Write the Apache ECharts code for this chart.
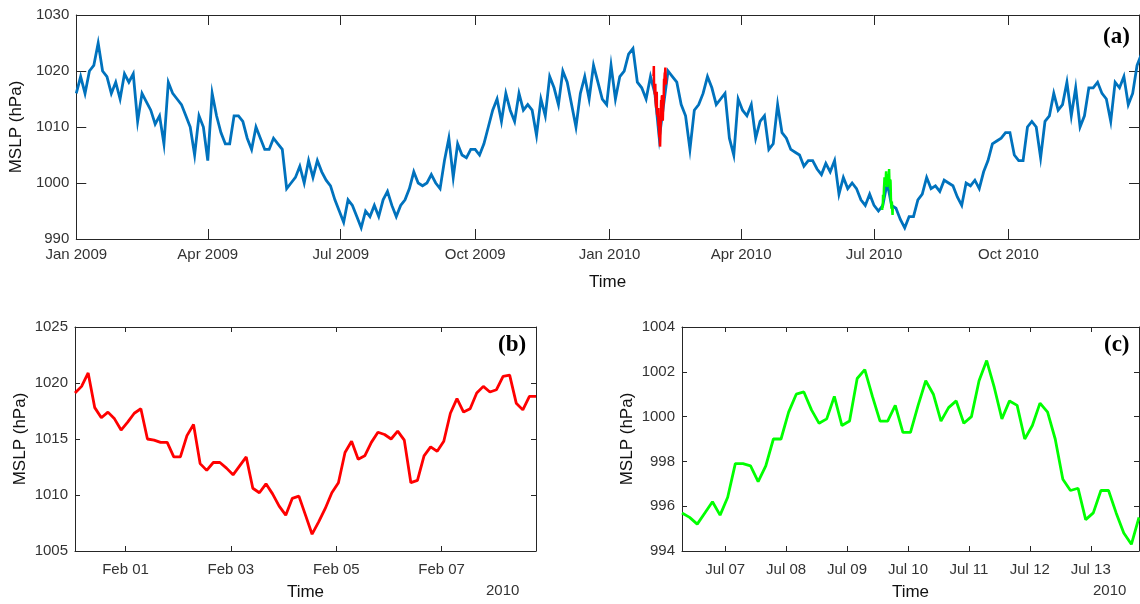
<!DOCTYPE html>
<html>
<head>
<meta charset="utf-8">
<script src="https://cdn.jsdelivr.net/npm/echarts@6/dist/echarts.min.js"></script>
<style>
html, body { margin: 0; padding: 0; background: #fff; }
#chart { width: 1140px; height: 604px; }
</style>
</head>
<body>
<div id="chart"></div>
<script>
const DAY = 86400000;
const HOUR = 3600000;

// (a) MSLP, one value every 3 days from 1 Jan 2009
const startA = Date.UTC(2009, 0, 1);
const mslpA = [
  1016, 1019, 1016, 1020, 1021, 1025, 1020, 1019, 1016, 1018,
  1015, 1019.5, 1018, 1019.5, 1011, 1016, 1014.5, 1013, 1010.5, 1012,
  1007, 1018, 1016, 1015, 1014, 1012, 1010, 1005, 1012, 1010,
  1004, 1016, 1012, 1009, 1007, 1007, 1012, 1012, 1011, 1008,
  1006, 1010, 1008, 1006, 1006, 1008, 1007, 1006, 999, 1000,
  1001, 1003, 1000, 1004, 1001, 1004, 1002, 1000.5, 999.5, 997,
  995, 993, 997, 996, 994, 992, 995, 994, 996, 994,
  997, 998.5, 996, 994, 996, 997, 999, 1002, 1000, 999.5,
  1000, 1001.5, 1000, 999, 1004, 1008, 1001, 1007, 1005, 1004.5,
  1006, 1006, 1005, 1007, 1010, 1013, 1015, 1011, 1016, 1013,
  1011, 1016, 1013, 1014, 1013, 1008.5, 1015, 1012, 1019, 1017,
  1014, 1020, 1018, 1014, 1010, 1016, 1019, 1015, 1021, 1018,
  1015, 1014, 1021, 1015, 1019, 1020, 1023, 1024, 1018, 1017,
  1015, 1019, 1016, 1008, 1014, 1020, 1019, 1018, 1014, 1012,
  1006, 1013, 1014, 1016, 1019, 1017, 1014, 1015, 1016, 1008,
  1005, 1015, 1013, 1012, 1014, 1008, 1011, 1012, 1006, 1007,
  1014, 1009, 1008, 1006, 1005.5, 1005, 1003, 1004, 1004, 1002.5,
  1001.5, 1003.5, 1002, 1004, 998, 1001, 999, 1000, 999, 997,
  996, 998, 996, 995, 996, 1000, 996, 995.5, 993.5, 992,
  994, 994, 997, 998, 1001, 999, 999.5, 998.5, 1000.5, 1000,
  999.5, 997.5, 996, 1000, 999.5, 1000.5, 999, 1002, 1004, 1007,
  1007.5, 1008, 1009, 1009, 1005, 1004, 1004, 1010, 1011, 1010,
  1004.5, 1011, 1012, 1016, 1013, 1014, 1018, 1012, 1017, 1010,
  1012, 1017, 1017, 1018, 1016, 1015, 1011, 1018, 1017, 1019,
  1014, 1016, 1021, 1023
];

// (b) MSLP every 3 h from 31 Jan 2010 01:00
const startB = Date.UTC(2010, 0, 31, 1);
const mslpB = [
  1019.1, 1019.7, 1020.9, 1017.8, 1016.9, 1017.4, 1016.8, 1015.8, 1016.5, 1017.3,
  1017.7, 1015.0, 1014.9, 1014.7, 1014.7, 1013.4, 1013.4, 1015.3, 1016.3, 1012.8,
  1012.2, 1012.9, 1012.9, 1012.4, 1011.8, 1012.6, 1013.4, 1010.6, 1010.2, 1011.0,
  1010.1, 1009.0, 1008.2, 1009.7, 1009.9, 1008.2, 1006.5, 1007.6, 1008.8, 1010.2,
  1011.1, 1013.8, 1014.8, 1013.2, 1013.5, 1014.7, 1015.6, 1015.4, 1015.0, 1015.7,
  1014.9, 1011.1, 1011.3, 1013.5, 1014.3, 1013.9, 1014.8, 1017.3, 1018.6, 1017.4,
  1017.7, 1019.1, 1019.7, 1019.2, 1019.4, 1020.6, 1020.7, 1018.2, 1017.6, 1018.8,
  1018.8
];

// (c) MSLP every 3 h from 6 Jul 2010 07:00
const startC = Date.UTC(2010, 6, 6, 7);
const mslpC = [
  995.7, 995.5, 995.2, 995.7, 996.2, 995.6, 996.4, 997.9, 997.9, 997.8,
  997.1, 997.8, 999.0, 999.0, 1000.2, 1001.0, 1001.1, 1000.3, 999.7, 999.9,
  1000.9, 999.6, 999.8, 1001.7, 1002.1, 1000.9, 999.8, 999.8, 1000.5, 999.3,
  999.3, 1000.5, 1001.6, 1001.0, 999.8, 1000.4, 1000.7, 999.7, 1000.0, 1001.6,
  1002.5, 1001.3, 999.9, 1000.7, 1000.5, 999.0, 999.6, 1000.6, 1000.2, 999.0,
  997.2, 996.7, 996.8, 995.4, 995.7, 996.7, 996.7, 995.7, 994.8, 994.3,
  995.5
];

// tick positions and labels
const ticksA = [
  Date.UTC(2009, 0, 1), Date.UTC(2009, 3, 1), Date.UTC(2009, 6, 1), Date.UTC(2009, 9, 1),
  Date.UTC(2010, 0, 1), Date.UTC(2010, 3, 1), Date.UTC(2010, 6, 1), Date.UTC(2010, 9, 1)
];
const labelsA = ['Jan 2009', 'Apr 2009', 'Jul 2009', 'Oct 2009', 'Jan 2010', 'Apr 2010', 'Jul 2010', 'Oct 2010'];
const ticksB = [Date.UTC(2010, 1, 1), Date.UTC(2010, 1, 3), Date.UTC(2010, 1, 5), Date.UTC(2010, 1, 7)];
const labelsB = ['Feb 01', 'Feb 03', 'Feb 05', 'Feb 07'];
const ticksC = [7, 8, 9, 10, 11, 12, 13].map(d => Date.UTC(2010, 6, d));
const labelsC = ['Jul 07', 'Jul 08', 'Jul 09', 'Jul 10', 'Jul 11', 'Jul 12', 'Jul 13'];

const lineCol = '#262626';
const labelCol = '#333';
const font = 'Liberation Sans';

function toPairs(start, step, arr) {
  return arr.map((v, i) => [start + i * step, v]);
}

function xAxes(grid, min, max, ticks, labels, tickLen, margin, nameGap) {
  const base = {
    type: 'value', gridIndex: grid, min: min, max: max,
    splitLine: { show: false },
    axisLine: { show: true, onZero: false, lineStyle: { color: lineCol, width: 1 } },
    axisTick: { show: true, inside: true, length: tickLen, customValues: ticks, lineStyle: { color: lineCol } }
  };
  return [
    Object.assign({}, base, {
      position: 'bottom',
      name: 'Time', nameLocation: 'middle', nameGap: nameGap,
      nameTextStyle: { fontFamily: font, fontSize: 17, color: '#111' },
      axisLabel: {
        show: true, customValues: ticks, margin: margin,
        fontFamily: font, fontSize: 15, color: labelCol,
        formatter: function (v) { return labels[ticks.indexOf(v)] || ''; }
      }
    }),
    Object.assign({}, base, { position: 'top', axisLabel: { show: false } })
  ];
}

function yAxes(grid, min, max, interval, tickLen) {
  const base = {
    type: 'value', gridIndex: grid, min: min, max: max, interval: interval,
    splitLine: { show: false },
    axisLine: { show: true, onZero: false, lineStyle: { color: lineCol, width: 1 } },
    axisTick: { show: true, inside: true, length: tickLen, lineStyle: { color: lineCol } }
  };
  return [
    Object.assign({}, base, {
      position: 'left',
      name: 'MSLP (hPa)', nameLocation: 'middle', nameGap: 46,
      nameTextStyle: { fontFamily: font, fontSize: 17, color: '#111' },
      axisLabel: {
        show: true, margin: 7, fontFamily: font, fontSize: 15, color: labelCol,
        formatter: function (v) { return String(v); }
      }
    }),
    Object.assign({}, base, { position: 'right', axisLabel: { show: false } })
  ];
}

const maxA = Date.UTC(2010, 11, 29, 8);
const maxB = startB + (mslpB.length - 1) * 3 * HOUR;
const maxC = startC + (mslpC.length - 1) * 3 * HOUR;

const chart = echarts.init(document.getElementById('chart'), null, { renderer: 'canvas' });

const option = {
  animation: false,
  backgroundColor: '#fff',
  grid: [
    { left: 75, top: 15, width: 1064, height: 224 },
    { left: 75, top: 327, width: 461, height: 224 },
    { left: 682, top: 327, width: 457, height: 224 }
  ],
  xAxis: [].concat(
    xAxes(0, startA, maxA, ticksA, labelsA, 10, 8, 35),
    xAxes(1, startB, maxB, ticksB, labelsB, 5, 11, 33),
    xAxes(2, startC, maxC, ticksC, labelsC, 5, 11, 33)
  ),
  yAxis: [].concat(
    yAxes(0, 990, 1030, 10, 10),
    yAxes(1, 1005, 1025, 5, 5),
    yAxes(2, 994, 1004, 2, 5)
  ),
  series: [
    {
      type: 'line', xAxisIndex: 0, yAxisIndex: 0, showSymbol: false,
      data: toPairs(startA, 3 * DAY, mslpA),
      lineStyle: { color: '#0072BD', width: 2.8, join: 'miter' }, itemStyle: { color: '#0072BD' }
    },
    {
      type: 'line', xAxisIndex: 0, yAxisIndex: 0, showSymbol: false,
      data: toPairs(startB, 3 * HOUR, mslpB),
      lineStyle: { color: '#FF0000', width: 2.5 }, itemStyle: { color: '#FF0000' }
    },
    {
      type: 'line', xAxisIndex: 0, yAxisIndex: 0, showSymbol: false,
      data: toPairs(startC, 3 * HOUR, mslpC),
      lineStyle: { color: '#00FF00', width: 2.5 }, itemStyle: { color: '#00FF00' }
    },
    {
      type: 'line', xAxisIndex: 2, yAxisIndex: 2, showSymbol: false,
      data: toPairs(startB, 3 * HOUR, mslpB),
      lineStyle: { color: '#FF0000', width: 2.8 }, itemStyle: { color: '#FF0000' }
    },
    {
      type: 'line', xAxisIndex: 4, yAxisIndex: 4, showSymbol: false,
      data: toPairs(startC, 3 * HOUR, mslpC),
      lineStyle: { color: '#00FF00', width: 2.8 }, itemStyle: { color: '#00FF00' }
    }
  ],
  graphic: [
    { type: 'text', left: 1103, top: 26, style: { text: '(a)', font: 'bold 23px "Liberation Serif"', fill: '#000' } },
    { type: 'text', left: 498, top: 334, style: { text: '(b)', font: 'bold 23px "Liberation Serif"', fill: '#000' } },
    { type: 'text', left: 1104, top: 334, style: { text: '(c)', font: 'bold 23px "Liberation Serif"', fill: '#000' } },
    { type: 'text', left: 486, top: 583, style: { text: '2010', font: '15px "Liberation Sans"', fill: labelCol } },
    { type: 'text', left: 1093, top: 583, style: { text: '2010', font: '15px "Liberation Sans"', fill: labelCol } }
  ]
};

chart.setOption(option);
</script>
</body>
</html>
